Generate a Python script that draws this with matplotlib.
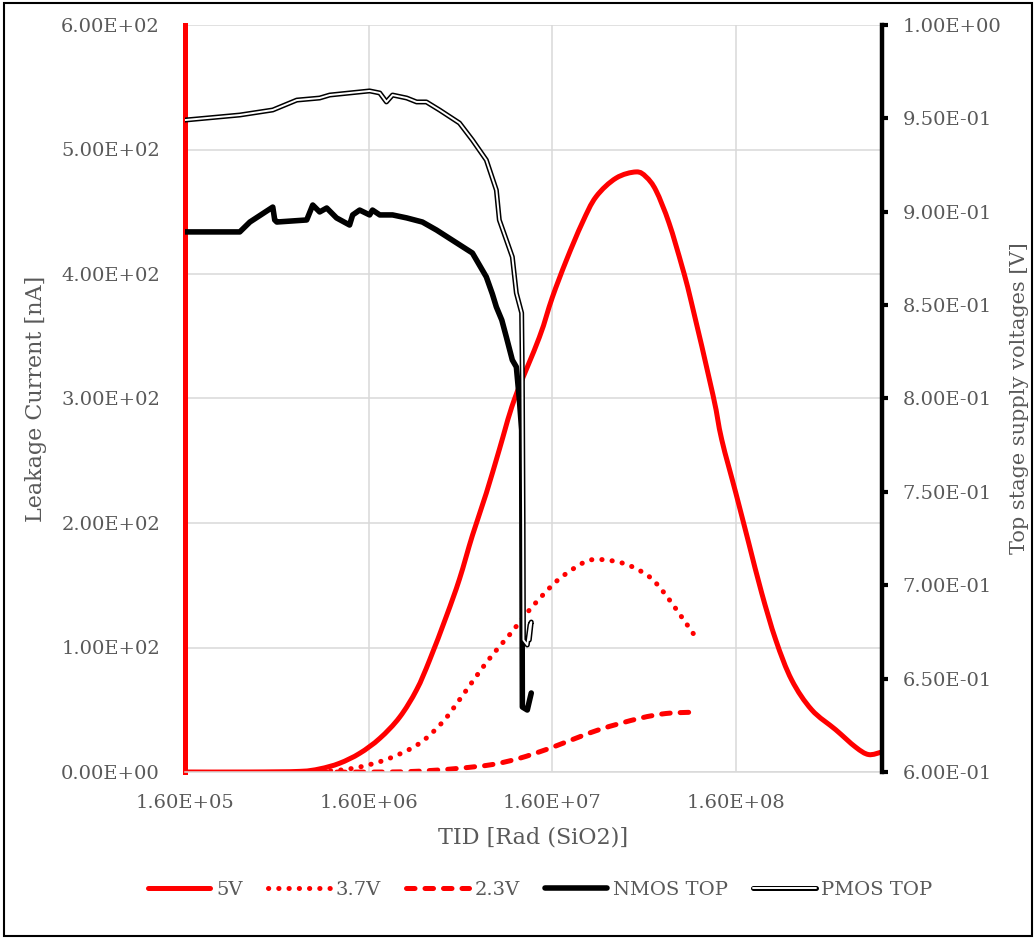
import numpy as np
import matplotlib
matplotlib.use('Agg')
import matplotlib.pyplot as plt
from matplotlib.ticker import FixedLocator, FuncFormatter, MultipleLocator, NullLocator
from matplotlib.legend_handler import HandlerTuple
from matplotlib.lines import Line2D
from matplotlib.patches import Rectangle, PathPatch
from matplotlib.path import Path

plt.rcParams['font.family'] = ['DejaVu Serif']

grey = '#595959'
gridc = '#d9d9d9'
red = '#ff0000'

# leakage current [nA] against TID [rad(SiO2)] for three supply voltages
tid_5v = [1.6e5, 3.6e5, 6.75e5, 8.66e5, 1.11e6, 1.43e6, 1.84e6, 2.36e6, 2.92e6,
          3.44e6, 4.24e6, 5.0e6, 5.88e6, 7.0e6, 8.24e6, 9.94e6, 1.36e7, 1.6e7,
          1.91e7, 2.33e7, 2.77e7, 3.56e7, 4.58e7, 5.19e7, 5.88e7, 6.92e7, 8.15e7,
          9.1e7, 1.2e8, 1.34e8, 1.6e8, 1.88e8, 2.21e8, 2.64e8, 3.22e8, 4.14e8,
          5.59e8, 7.18e8, 8.45e8, 9.94e8]
cur_5v = [0, 0, 0.5, 2.5, 7, 15, 27, 44, 66,
          90, 125, 155, 190, 224, 259, 299, 349, 381,
          411, 441, 462, 477, 482, 478, 467, 441, 406,
          379, 303, 267, 224, 184, 144, 106, 74, 50,
          34, 20, 14, 16]

tid_37v = [6.75e5, 1.02e6, 1.43e6, 2.08e6, 3.03e6, 4.04e6, 5.0e6, 6.18e6, 7.55e6,
           9.34e6, 1.2e7, 1.6e7, 1.98e7, 2.54e7, 3.26e7, 4.19e7, 5.39e7, 6.34e7,
           7.55e7, 9.71e7]
cur_37v = [0, 1, 4, 11, 23, 40, 58, 77, 94,
           110, 130, 150, 161, 170, 170, 166, 157, 146,
           131, 108]

tid_23v = [6.75e5, 2.08e6, 3.3e6, 5.0e6, 7.55e6, 1.06e7, 1.48e7, 1.75e7, 2.88e7,
           4.75e7, 6.67e7, 9.23e7]
cur_23v = [0, 0, 1, 3, 6, 11, 18, 22, 34,
           43, 47, 48]

# top stage supply voltages [V]
tid_nmos = [1.6e5, 3.18e5, 3.61e5, 4.81e5, 4.93e5, 5.06e5, 7.36e5, 7.94e5, 8.66e5,
            9.46e5, 1.07e6, 1.26e6, 1.31e6, 1.43e6, 1.62e6, 1.68e6, 1.84e6, 2.16e6,
            2.58e6, 3.14e6, 3.75e6, 5.88e6, 7.0e6, 7.55e6, 7.94e6, 8.5e6, 9.0e6,
            9.7e6, 1.02e7, 1.06e7, 1.09e7, 1.10e7, 1.17e7, 1.23e7]
v_nmos = [0.8892, 0.8892, 0.8945, 0.9025, 0.8956, 0.8945, 0.8956, 0.9036, 0.8999,
          0.9020, 0.8967, 0.8929, 0.8983, 0.9009, 0.8983, 0.9009, 0.8983, 0.8983,
          0.8967, 0.8945, 0.8902, 0.8779, 0.8651, 0.8560, 0.8490, 0.8420, 0.8329,
          0.8206, 0.8169, 0.7992, 0.7831, 0.6348, 0.6332, 0.6423]

tid_pmos = [1.6e5, 3.18e5, 4.81e5, 6.5e5, 8.66e5, 9.82e5, 1.26e6, 1.62e6, 1.84e6,
            2.0e6, 2.16e6, 2.58e6, 2.92e6, 3.30e6, 3.89e6, 5.0e6, 5.88e6, 7.0e6,
            7.94e6, 8.24e6, 9.0e6, 9.7e6, 1.02e7, 1.09e7, 1.10e7, 1.11e7, 1.115e7,
            1.17e7, 1.21e7, 1.23e7, 1.20e7]
v_pmos = [0.9491, 0.9518, 0.9545, 0.9598, 0.9609, 0.9625, 0.9636, 0.9647, 0.9636,
          0.9588, 0.9625, 0.9609, 0.9588, 0.9588, 0.9545, 0.9475, 0.9384, 0.9277,
          0.9116, 0.8956, 0.8849, 0.8758, 0.8565, 0.8458, 0.8099, 0.7349, 0.6707,
          0.6680, 0.6787, 0.6803, 0.6707]

x_ticks = [1.6e5, 1.6e6, 1.6e7, 1.6e8]


def smooth_path(xs, ys):
    # Catmull-Rom through the points, built in log10(x) so it stays smooth on the log axis
    pts = np.column_stack([np.log10(xs), np.asarray(ys, float)])
    n = len(pts)
    verts = [pts[0]]
    codes = [Path.MOVETO]
    for i in range(n - 1):
        p0, p1 = pts[max(i - 1, 0)], pts[i]
        p2, p3 = pts[i + 1], pts[min(i + 2, n - 1)]
        verts += [p1 + (p2 - p0) / 6, p2 - (p3 - p1) / 6, p2]
        codes += [Path.CURVE4] * 3
    verts = np.array(verts)
    verts[:, 0] = 10 ** verts[:, 0]
    return Path(verts, codes)


fig = plt.figure(figsize=(10.35, 9.39), dpi=100)
ax = fig.add_axes([185 / 1035, 1 - 772 / 939, 697 / 1035, 747 / 939])
ax2 = ax.twinx()

sci = FuncFormatter(lambda v, p: f'{v:.2E}')

ax.set_xscale('log')
ax.set_xlim(1.6e5, 1e9)
ax.set_ylim(0, 600)
ax.xaxis.set_major_locator(FixedLocator(x_ticks))
ax.xaxis.set_minor_locator(NullLocator())
ax.xaxis.set_major_formatter(sci)
ax.yaxis.set_major_locator(MultipleLocator(100))
ax.yaxis.set_major_formatter(sci)
ax.grid(True, color=gridc, lw=1.1)
ax.set_axisbelow(True)
ax.tick_params(axis='both', length=0, labelsize=14, labelcolor=grey)
ax.tick_params(axis='y', pad=18)
ax.tick_params(axis='x', pad=16)
for s in ['top', 'right']:
    ax.spines[s].set_visible(False)
ax.spines['left'].set_color(red)
ax.spines['left'].set_linewidth(3.6)
ax.spines['bottom'].set_color(gridc)
ax.spines['bottom'].set_linewidth(1.1)

red_styles = [('5V', tid_5v, cur_5v, '-'),
              ('3.7V', tid_37v, cur_37v, (0, (0.05, 2.0))),
              ('2.3V', tid_23v, cur_23v, (0, (1.7, 2.0)))]
red_handles = []
for name, xs, ys, ls in red_styles:
    pp = PathPatch(smooth_path(xs, ys), fill=False, edgecolor=red, lw=3.6, ls=ls,
                   capstyle='round', joinstyle='round')
    ax.add_patch(pp)
    red_handles.append(Line2D([], [], color=red, lw=3.6, ls=ls,
                              solid_capstyle='round', dash_capstyle='round'))

ax2.set_ylim(0.6, 1.0)
ax2.yaxis.set_major_locator(MultipleLocator(0.05))
ax2.yaxis.set_major_formatter(sci)
ax2.tick_params(axis='y', direction='out', length=4, width=3, color='black',
                labelsize=14, labelcolor=grey, pad=11)
for s in ['top', 'left', 'bottom']:
    ax2.spines[s].set_visible(False)
ax2.spines['right'].set_color('black')
ax2.spines['right'].set_linewidth(3.2)

ln_kw = dict(solid_joinstyle='round', solid_capstyle='round')
hn, = ax2.plot(tid_nmos, v_nmos, color='black', lw=4.0, **ln_kw)
hp_out, = ax2.plot(tid_pmos, v_pmos, color='black', lw=3.6, **ln_kw)
hp_in, = ax2.plot(tid_pmos, v_pmos, color='white', lw=1.4, **ln_kw)

ax.set_xlabel('TID [Rad (SiO2)]', fontsize=16, color=grey, labelpad=10)
ax.set_ylabel('Leakage Current [nA]', fontsize=16, color=grey, labelpad=10)
ax2.set_ylabel('Top stage supply voltages [V]', fontsize=15, color=grey, labelpad=6)

fig.legend(red_handles + [hn, (hp_out, hp_in)],
           ['5V', '3.7V', '2.3V', 'NMOS TOP', 'PMOS TOP'],
           handler_map={tuple: HandlerTuple(ndivide=1)},
           loc='center', bbox_to_anchor=(0.522, 0.052), ncol=5, frameon=False,
           fontsize=14, labelcolor=grey, handlelength=3.2, handletextpad=0.3,
           columnspacing=1.3)

fig.patches.append(Rectangle((0.004, 0.003), 0.993, 0.994, transform=fig.transFigure,
                             fill=False, edgecolor='black', lw=1.5))

fig.savefig('out.png', dpi=100)
